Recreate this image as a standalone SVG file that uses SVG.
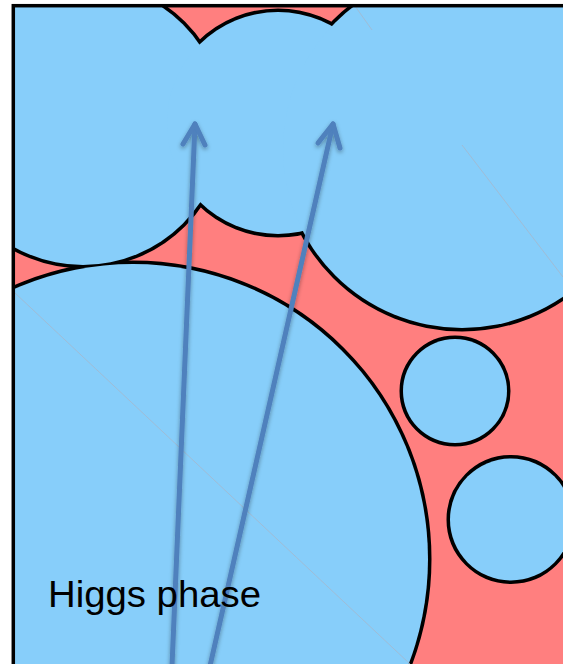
<svg xmlns="http://www.w3.org/2000/svg" width="563" height="664" viewBox="0 0 563 664">
  <style>
    .outline { fill: none; stroke: #000; stroke-width: 7; }
    .bubble { fill: #87CEFA; stroke: none; }
    .faint { stroke: #a6b8cc; stroke-width: 0.8; fill: none; }
    .arrow { stroke: #4F81BD; stroke-width: 5; fill: none; stroke-linecap: round; stroke-linejoin: round; }
    .label { font-family: "Liberation Sans", Arial, sans-serif; font-size: 36.5px; fill: #000; }
  </style>
  <defs>
    <clipPath id="frameClip">
      <rect x="13" y="5.7" width="560" height="670"/>
    </clipPath>
    <filter id="shadow" x="-50%" y="-10%" width="200%" height="120%">
      <feDropShadow dx="0" dy="2" stdDeviation="2" flood-color="#000" flood-opacity="0.35"/>
    </filter>
  </defs>

  <rect x="0" y="0" width="563" height="664" fill="#fff"/>

  <g clip-path="url(#frameClip)">
    <rect id="background" x="13" y="5.7" width="560" height="670" fill="#FF7F7F"/>
    <g id="outlines">
      <circle class="outline" cx="83" cy="124" r="141"/>
      <circle class="outline" cx="278" cy="123" r="111"/>
      <circle class="outline" cx="462" cy="149" r="179"/>
      <circle class="outline" cx="133" cy="559" r="295"/>
      <circle class="outline" cx="455" cy="391" r="52"/>
      <circle class="outline" cx="511" cy="519.5" r="61"/>
    </g>
    <g id="bubble-top-left"><circle class="bubble" cx="83" cy="124" r="141"/></g>
    <g id="bubble-top-middle"><circle class="bubble" cx="278" cy="123" r="111"/></g>
    <g id="bubble-top-right"><circle class="bubble" cx="462" cy="149" r="179"/></g>
    <g id="bubble-bottom-left"><circle class="bubble" cx="133" cy="559" r="295"/></g>
    <g id="bubble-small-1"><circle class="bubble" cx="455" cy="391" r="52"/></g>
    <g id="bubble-small-2"><circle class="bubble" cx="511" cy="519.5" r="61"/></g>
    <g id="faint-lines">
      <line class="faint" x1="15" y1="293" x2="410" y2="664"/>
      <line class="faint" x1="462" y1="145" x2="563" y2="277"/>
      <line class="faint" x1="355" y1="6" x2="372" y2="30"/>
    </g>
  </g>

  <g id="connectors" filter="url(#shadow)">
    <path class="arrow" d="M172,666 L195,124"/>
    <path class="arrow" d="M183,144 L195,124 L205,145"/>
    <path class="arrow" d="M210,666 L333,124"/>
    <path class="arrow" d="M318,143 L333,124 L340,148"/>
  </g>

  <g id="label">
    <text class="label" x="48" y="607" textLength="213" lengthAdjust="spacingAndGlyphs">Higgs phase</text>
  </g>

  <rect id="frame" x="13.3" y="5.7" width="600" height="700" fill="none" stroke="#000" stroke-width="3.5"/>
</svg>
